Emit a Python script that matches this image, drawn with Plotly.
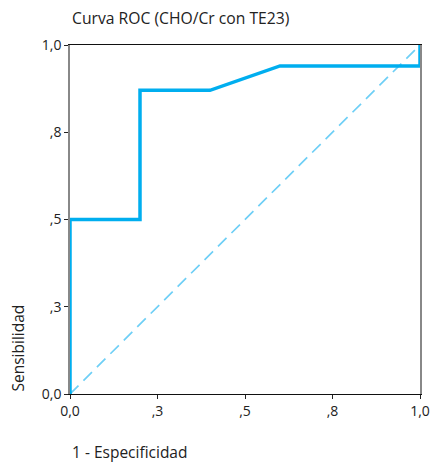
import plotly.graph_objects as go

# ROC curve points (1 - specificity, sensitivity)
fpr = [0.0, 0.0, 0.2, 0.2, 0.4, 0.6, 1.0, 1.0]
tpr = [0.0, 0.5, 0.5, 0.87, 0.87, 0.94, 0.94, 1.0]
# reference diagonal
diag_x = [0.0, 1.0]
diag_y = [0.0, 1.0]
# ticks
tick_vals = [0.0, 0.25, 0.5, 0.75, 1.0]
tick_text = ["0,0", ",3", ",5", ",8", "1,0"]

title_text = "Curva ROC (CHO/Cr con TE23)"
x_title = "1 - Especificidad"
y_title = "Sensibilidad"

FONT = "Open Sans"

fig = go.Figure()
fig.add_trace(go.Scatter(x=diag_x, y=diag_y, mode="lines",
                         line=dict(color="#6ECFF6", width=1.7, dash="12px,7px"),
                         hoverinfo="skip", showlegend=False))
fig.add_trace(go.Scatter(x=fpr, y=tpr, mode="lines",
                         line=dict(color="#00AEEF", width=3.5),
                         showlegend=False))

axis_common = dict(range=[0, 1], tickvals=tick_vals, ticktext=tick_text,
                   showgrid=False, zeroline=False, ticks="outside", ticklen=4,
                   tickcolor="#222", tickwidth=1, automargin=False,
                   tickfont=dict(family=FONT, size=14, color="#222"))

fig.update_layout(
    width=435, height=462,
    margin=dict(l=70, r=15, t=45, b=68),
    paper_bgcolor="white", plot_bgcolor="white",
    xaxis=dict(**axis_common, showline=True, linecolor="#111", linewidth=1.2, mirror=True),
    yaxis=dict(**axis_common, showline=True, linecolor="#888", linewidth=1.5, mirror=True),
    annotations=[
        dict(text=title_text, xref="paper", yref="paper", x=0, y=1, yshift=27,
             xanchor="left", yanchor="middle", showarrow=False,
             font=dict(family=FONT, size=15.7, color="#222")),
        dict(text=x_title, xref="paper", yref="paper", x=0, y=0, yshift=-58,
             xanchor="left", yanchor="middle", showarrow=False,
             font=dict(family=FONT, size=15.5, color="#222")),
        dict(text=y_title, xref="paper", yref="paper", x=0, y=0, xshift=-53,
             xanchor="center", yanchor="bottom", textangle=-90, showarrow=False,
             font=dict(family=FONT, size=15.5, color="#222")),
    ],
)

fig.write_html("out.html", config={"displayModeBar": False},
               post_script="document.body.style.margin='0';document.body.style.overflow='hidden';")
